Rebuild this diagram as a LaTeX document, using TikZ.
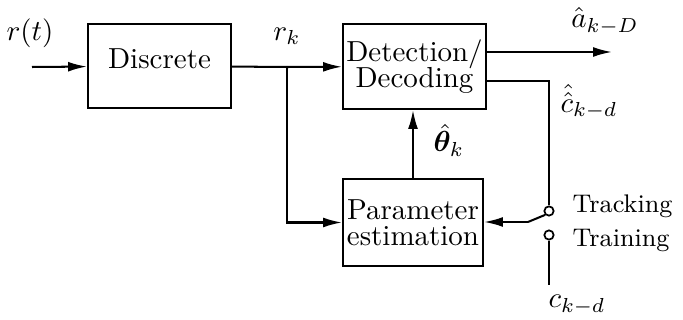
\documentclass[tikz,border=0pt]{standalone}
\usepackage{amsmath,bm}
\usetikzlibrary{arrows.meta}
\tikzset{
  block/.style={draw,line width=0.7pt,align=center,inner sep=1pt},
  arr/.style={-{Latex[length=6.5pt,width=3.4pt]}},
  contact/.style={circle,draw,line width=0.6pt,fill=white,inner sep=0pt,minimum size=3.2pt},
  sw/.style={font=\fontsize{8.8}{10}\selectfont,anchor=west}
}
\begin{document}
\begin{tikzpicture}[x=0.01213cm,y=-0.01213cm,line width=0.7pt]
  \useasboundingbox (0,0) rectangle (683,320);
  % blocks
  \node[block,minimum width=1.735cm,minimum height=1.019cm] (disc) at (159.5,66) {\raisebox{5pt}{Discrete}};
  \node[block,minimum width=1.735cm,minimum height=1.031cm] (det) at (414.5,66.5) {Detection/\\[-3pt]Decoding};
  \node[block,minimum width=1.698cm,minimum height=1.055cm] (param) at (413,222.5) {Parameter\\[-3pt]estimation};
  % points
  \coordinate (in) at (32,67);
  \coordinate (br) at (287,67);
  \coordinate (aout) at (612,52);
  \coordinate (ccorner) at (549,81);
  \coordinate (arm) at (528,222);
  \coordinate (trainend) at (549,285);
  \node[contact] (track) at (549,211) {};
  \node[contact] (train) at (549,235) {};
  % labels
  \node (rt) at (30,33) {$r(t)$};
  \node (rk) at (287,36) {$r_k$};
  \node (ahat) at (605,21) {$\hat{a}_{k-D}$};
  \node (chat) at (589,102) {$\hat{\hat{c}}_{k-d}$};
  \node[anchor=west] (theta) at (423,140) {$\hat{\bm{\theta}}_k$};
  \node[sw] (tracklbl) at (562,206) {Tracking};
  \node[sw] (trainlbl) at (562,240) {Training};
  \node (ck) at (577,305) {$c_{k-d}$};
  % connections
  \draw[arr] (in) -- (disc);
  \draw (disc) -- (br);
  \draw[arr] (br) -- (det);
  \draw[arr] (br) |- (param.west);
  \draw[arr] (param.north) -- (param.north |- det.south);
  \draw[arr] (aout -| det.east) -- (aout);
  \draw (ccorner -| det.east) -- (ccorner) -- (track);
  \draw (train) -- (trainend);
  \draw (track.225) -- (arm);
  \draw[arr] (arm) -- (arm -| param.east);
\end{tikzpicture}
\end{document}
